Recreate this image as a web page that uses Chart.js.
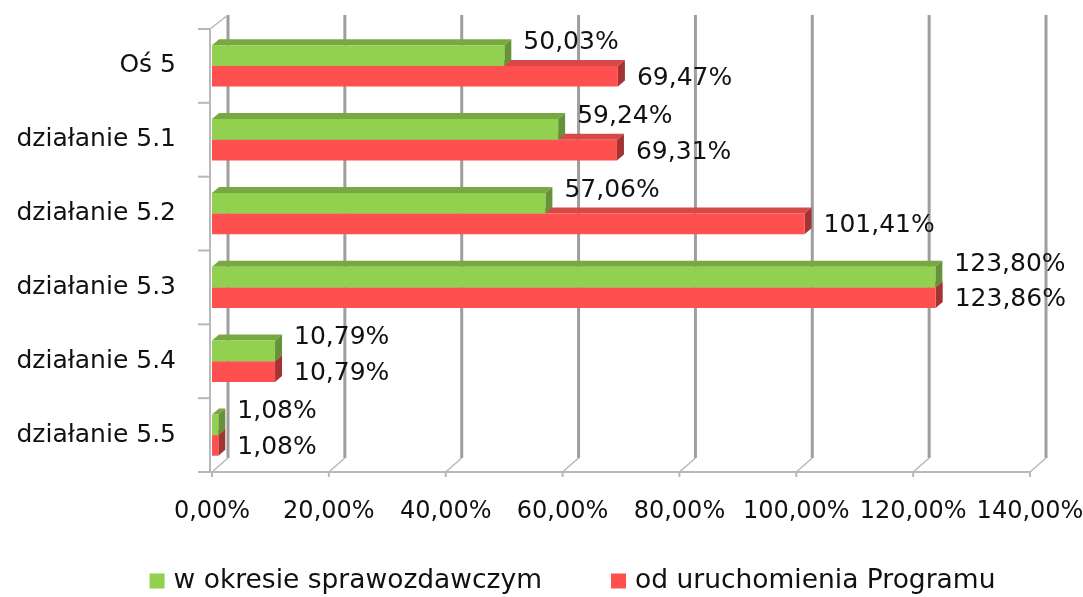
<!DOCTYPE html>
<html>
<head>
<meta charset="utf-8">
<script src="https://cdn.jsdelivr.net/npm/chart.js@4.4.1/dist/chart.umd.min.js"></script>
<style>
  html, body { margin: 0; padding: 0; background: #fff; }
</style>
</head>
<body>
<canvas id="chart" width="1083" height="597"></canvas>
<script>
const categories = ['Oś 5', 'działanie 5.1', 'działanie 5.2', 'działanie 5.3', 'działanie 5.4', 'działanie 5.5'];
const okresValues = [50.03, 59.24, 57.06, 123.80, 10.79, 1.08];
const programValues = [69.47, 69.31, 101.41, 123.86, 10.79, 1.08];
const xTicks = [0, 20, 40, 60, 80, 100, 120, 140];
const seriesNames = ['w okresie sprawozdawczym', 'od uruchomienia Programu'];

const FONT = "'DejaVu Sans', sans-serif";
const depth = { wallX: 16, wallY: 14, barX: 7, barY: 6 };
const faces = [
  { front: '#92d050', top: '#79a843', side: '#66923a' },
  { front: '#ff5050', top: '#d94848', side: '#a33434' }
];
const labelShift = [-13, 2];

const pct = v => v.toFixed(2).replace('.', ',') + '%';

function line(ctx, x1, y1, x2, y2) {
  ctx.beginPath();
  ctx.moveTo(x1, y1);
  ctx.lineTo(x2, y2);
  ctx.stroke();
}

function poly(ctx, pts, color) {
  ctx.fillStyle = color;
  ctx.beginPath();
  ctx.moveTo(pts[0][0], pts[0][1]);
  pts.slice(1).forEach(p => ctx.lineTo(p[0], p[1]));
  ctx.closePath();
  ctx.fill();
}

// no extra label padding, layout.padding decides the plot area
function noPad(s) {
  s.paddingLeft = 0;
  s.paddingRight = 0;
  s.paddingTop = 0;
  s.paddingBottom = 0;
}

const threeD = {
  id: 'threeD',
  beforeDatasetsDraw(chart) {
    const { ctx, chartArea: a, scales: { x } } = chart;
    const axisX = a.left - 2;
    ctx.save();

    // back wall gridlines
    ctx.strokeStyle = '#9e9e9e';
    ctx.lineWidth = 3;
    xTicks.forEach(v => {
      const px = x.getPixelForValue(v) + depth.wallX;
      line(ctx, px, a.top - depth.wallY, px, a.bottom - depth.wallY);
    });

    // floor diagonals
    ctx.strokeStyle = '#b8b8b8';
    ctx.lineWidth = 1.5;
    xTicks.forEach(v => {
      const px = x.getPixelForValue(v);
      line(ctx, px, a.bottom, px + depth.wallX, a.bottom - depth.wallY);
    });
    line(ctx, axisX, a.top, x.getPixelForValue(0) + depth.wallX, a.top - depth.wallY);

    // left axis + category ticks
    ctx.lineWidth = 2;
    line(ctx, axisX, a.top, axisX, a.bottom);
    const n = categories.length;
    for (let i = 0; i <= n; i++) {
      const py = a.top + i * (a.bottom - a.top) / n;
      line(ctx, axisX - 12, py, axisX, py);
    }

    // bottom axis
    line(ctx, axisX - 2, a.bottom, a.right, a.bottom);
    xTicks.forEach(v => {
      const px = x.getPixelForValue(v);
      line(ctx, px, a.bottom, px, a.bottom + 5);
    });

    // bar tops and sides (red first, green over it)
    [1, 0].forEach(di => {
      const meta = chart.getDatasetMeta(di);
      meta.data.forEach(bar => {
        const p = bar.getProps(['x', 'y', 'base', 'height'], true);
        const t = p.y - p.height / 2;
        const b = p.y + p.height / 2;
        const dx = depth.barX, dy = depth.barY;
        poly(ctx, [[p.base, t], [p.x, t], [p.x + dx, t - dy], [p.base + dx, t - dy]], faces[di].top);
        poly(ctx, [[p.x, t], [p.x + dx, t - dy], [p.x + dx, b - dy], [p.x, b]], faces[di].side);
      });
    });
    ctx.restore();
  },
  afterDatasetsDraw(chart) {
    const { ctx } = chart;
    ctx.save();
    ctx.font = '25px ' + FONT;
    ctx.fillStyle = '#111';
    ctx.textAlign = 'left';
    ctx.textBaseline = 'middle';
    [0, 1].forEach(di => {
      const meta = chart.getDatasetMeta(di);
      const vals = chart.data.datasets[di].data;
      meta.data.forEach((bar, i) => {
        const p = bar.getProps(['x', 'y'], true);
        ctx.fillText(pct(vals[i]), p.x + depth.barX + 12, p.y + labelShift[di]);
      });
    });
    ctx.restore();
  },
  afterDraw(chart) {
    // legend
    const { ctx } = chart;
    ctx.save();
    ctx.font = '26.5px ' + FONT;
    ctx.textBaseline = 'middle';
    ctx.textAlign = 'left';
    const box = 15, gapText = 9, gapItem = 69;
    const widths = seriesNames.map(s => ctx.measureText(s).width);
    const total = widths.reduce((s, w) => s + box + gapText + w, 0) + gapItem;
    let cx = chart.width / 2 + 31 - total / 2;
    const cy = 581;
    seriesNames.forEach((s, i) => {
      ctx.fillStyle = faces[i].front;
      ctx.fillRect(cx, cy - box / 2, box, box);
      ctx.fillStyle = '#111';
      ctx.fillText(s, cx + box + gapText, cy);
      cx += box + gapText + widths[i] + gapItem;
    });
    ctx.restore();
  }
};

new Chart(document.getElementById('chart'), {
  type: 'bar',
  data: {
    labels: categories,
    datasets: [
      { label: seriesNames[0], data: okresValues, backgroundColor: faces[0].front,
        categoryPercentage: 0.56, barPercentage: 1.0 },
      { label: seriesNames[1], data: programValues, backgroundColor: faces[1].front,
        categoryPercentage: 0.56, barPercentage: 1.0 }
    ]
  },
  options: {
    indexAxis: 'y',
    responsive: false,
    animation: false,
    layout: { padding: { left: 10, right: 53, top: 29, bottom: 0 } },
    plugins: {
      legend: { display: false },
      tooltip: { enabled: false }
    },
    scales: {
      x: {
        min: 0,
        max: 140,
        grid: { display: false },
        border: { display: false },
        afterBuildTicks: s => { s.ticks = xTicks.map(v => ({ value: v })); },
        afterFit: s => { s.height = 125; noPad(s); },
        ticks: {
          padding: 17,
          color: '#111',
          font: { family: FONT, size: 24 },
          maxRotation: 0,
          autoSkip: false,
          callback: v => pct(v)
        }
      },
      y: {
        grid: { display: false },
        border: { display: false },
        afterFit: s => { s.width = 202; noPad(s); },
        ticks: {
          padding: 28,
          color: '#111',
          font: { family: FONT, size: 25 }
        }
      }
    }
  },
  plugins: [threeD]
});
</script>
</body>
</html>
